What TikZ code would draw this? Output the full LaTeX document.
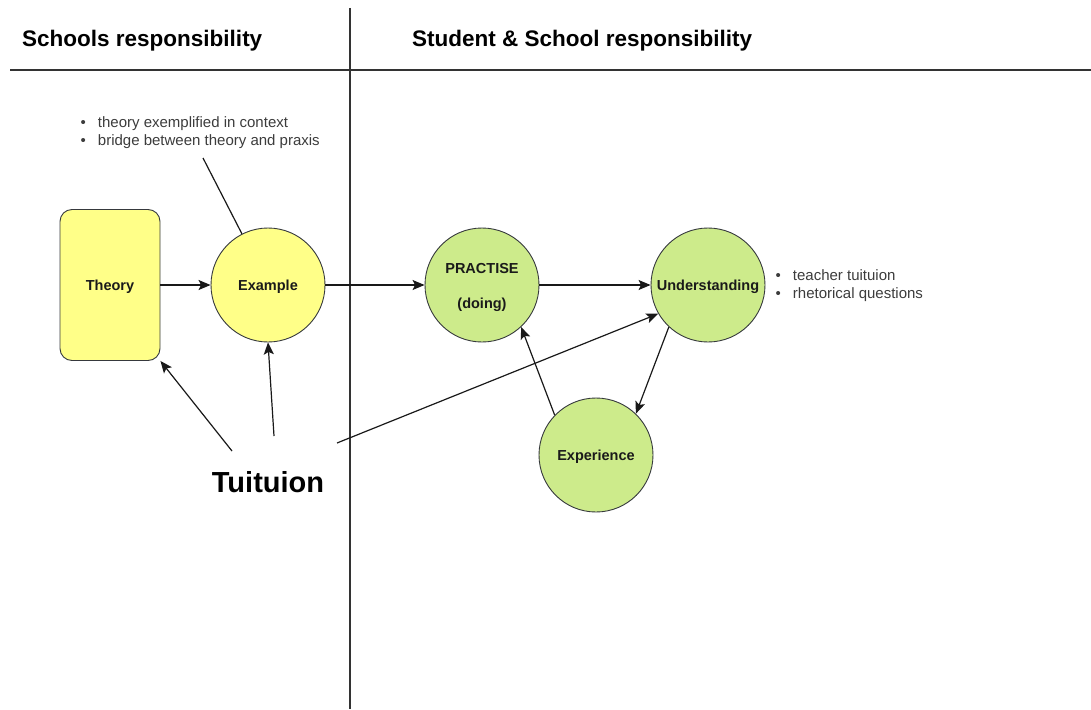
\documentclass[tikz,border=0pt]{standalone}
\usepackage{fontspec}
\setmainfont{Liberation Sans}
\usetikzlibrary{arrows.meta,calc}
\definecolor{yfill}{HTML}{FFFF88}
\definecolor{gfill}{HTML}{CDEB8B}
\definecolor{edge}{HTML}{36393D}
\definecolor{txt}{HTML}{1A1A1A}
\tikzset{
  lbl/.style={font=\fontsize{14.5}{17}\selectfont\bfseries, text=txt},
  one/.style={text height=10.5pt, text depth=0pt},
  yel/.style={draw=edge, fill=yfill, line width=0.9pt},
  grn/.style={draw=edge, fill=gfill, line width=0.9pt},
  bubble/.style={circle, minimum size=114pt, inner sep=0pt, align=center, lbl},
  conn/.style={draw=black!90, line width=1.2pt, -{Stealth[length=12pt,width=10pt,inset=2.5pt]}},
  plain/.style={draw=black!90, line width=1.2pt},
  sep/.style={draw=black!80, line width=1.3pt},
  head/.style={font=\fontsize{22.5}{26}\selectfont\bfseries, inner sep=0pt, anchor=base west},
  notes/.style={font=\fontsize{15}{18}\selectfont, text=txt!85, align=left, inner sep=0pt, anchor=west}
}
\begin{document}
\begin{tikzpicture}[x=1pt,y=-1pt]
\useasboundingbox (0,0) rectangle (1091,709);
% separators
\coordinate (vtop) at (350,8);
\coordinate (vbot) at (350,709);
\coordinate (hl) at (10,70);
\coordinate (hr) at (1091,70);
\path[sep] (vtop) -- (vbot);
\path[sep] (hl) -- (hr);
% headers
\node[head] (h1) at (22,47) {Schools responsibility};
\node[head] (h2) at (412,47) {Student \& School responsibility};
% nodes
\node[yel, rounded corners=12pt, minimum width=100pt, minimum height=151pt, lbl, one] (th) at (110,285) {Theory};
\node[bubble, yel, one] (ex) at (268,285) {Example};
\node[bubble, grn] (pr) at (482,285) {};
\node[lbl, align=center, inner sep=0pt] (prt) at (482,287) {PRACTISE\\[18pt](doing)};
\node[bubble, grn, one] (un) at (708,285) {Understanding};
\node[bubble, grn, one] (exp) at (596,455) {Experience};
\node[font=\fontsize{29}{34}\selectfont\bfseries, text=black, inner sep=0pt] (tu) at (268,482) {Tuituion};
% notes
\node[notes] (n1) at (80.5,132.5) {\textbullet\hspace{12pt}theory exemplified in context\\\textbullet\hspace{12pt}bridge between theory and praxis};
\node[notes] (n2) at (775.5,286) {\textbullet\hspace{12pt}teacher tuituion\\\textbullet\hspace{12pt}rhetorical questions};
\coordinate (nfoot) at (203,158);
\path[plain] (nfoot) -- (ex.117);
% connectors
\path[conn] (th.east) -- (ex.west);
\path[conn] (ex.east) -- (pr.west);
\path[conn] (pr.east) -- (un.west);
\path[conn] (un.227) -- (exp.46);
\path[conn] (exp.136) -- (pr.313);
\coordinate (t1) at (232,451);
\coordinate (t2) at (274,436);
\coordinate (t3) at (337,443);
\path[conn] (t1) -- (th.south east);
\path[conn] (t2) -- (ex.south);
\path[conn] (t3) -- (un.210);
\end{tikzpicture}
\end{document}
